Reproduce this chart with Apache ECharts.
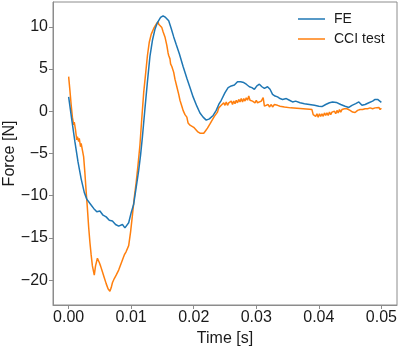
<!DOCTYPE html>
<html>
<head>
<meta charset="utf-8">
<script src="https://cdn.jsdelivr.net/npm/echarts@6/dist/echarts.min.js"></script>
<style>
  html, body { margin: 0; padding: 0; background: #ffffff; }
  #chart { width: 400px; height: 346px; }
</style>
</head>
<body>
<div id="chart"></div>
<script>
// FE simulation, force vs time
const feTime = [
  0.0000, 0.0005, 0.0010, 0.0015, 0.0020, 0.0025, 0.0029, 0.0035, 0.0040, 0.0045,
  0.0050, 0.0055, 0.0060, 0.0065, 0.0070, 0.0075, 0.0080, 0.0083, 0.0086, 0.0090,
  0.0093, 0.0096, 0.0100, 0.0104, 0.0108, 0.0112, 0.0115, 0.0118, 0.0122, 0.0126,
  0.0130, 0.0134, 0.0138, 0.0142, 0.0147, 0.0151, 0.0155, 0.0160, 0.0164, 0.0168,
  0.0172, 0.0177, 0.0183, 0.0189, 0.0194, 0.0199, 0.0205, 0.0210, 0.0215, 0.0220,
  0.0225, 0.0231, 0.0236, 0.0240, 0.0244, 0.0250, 0.0255, 0.0260, 0.0265, 0.0270,
  0.0275, 0.0280, 0.0284, 0.0289, 0.0293, 0.0297, 0.0301, 0.0305, 0.0309, 0.0313,
  0.0318, 0.0322, 0.0326, 0.0330, 0.0334, 0.0338, 0.0342, 0.0348, 0.0353, 0.0358,
  0.0363, 0.0370, 0.0377, 0.0385, 0.0393, 0.0400, 0.0405, 0.0411, 0.0417, 0.0422,
  0.0428, 0.0435, 0.0442, 0.0448, 0.0453, 0.0459, 0.0464, 0.0469, 0.0474, 0.0480,
  0.0486, 0.0490, 0.0494, 0.0497, 0.0500
];
const feForce = [
  1.7, -1.0, -3.6, -6.0, -8.0, -9.6, -10.4, -11.0, -11.5, -11.9,
  -11.8, -12.3, -12.5, -12.9, -13.0, -13.4, -13.6, -13.8, -13.4, -13.8,
  -13.85, -13.2, -12.0, -11.0, -9.0, -7.0, -5.2, -3.0, 0.3, 3.5,
  6.5, 8.4, 9.7, 10.5, 11.1, 11.3, 11.1, 10.7, 9.8, 8.8,
  7.9, 6.8, 5.3, 3.9, 2.8, 1.7, 0.6, -0.2, -0.7, -1.05,
  -0.9, -0.5, 0.1, 0.8, 1.3, 2.2, 2.8, 3.0, 3.1, 3.5,
  3.5, 3.4, 3.2, 2.9, 2.8, 2.6, 3.0, 3.2, 2.9, 2.7,
  2.9, 2.6, 2.0, 1.8, 1.7, 1.5, 1.4, 1.5, 1.3, 1.1,
  1.2, 1.0, 0.9, 0.8, 0.7, 0.6, 0.55, 0.8, 1.0, 1.1,
  1.05, 0.8, 0.6, 0.45, 0.7, 0.9, 1.1, 0.7, 0.8, 1.0,
  1.2, 1.4, 1.4, 1.3, 1.05
];

// CCI test measurement
const cciTime = [
  0.0000, 0.0002, 0.0004, 0.0006, 0.0008, 0.0009, 0.0011, 0.0013, 0.0014, 0.0016,
  0.0017, 0.0019, 0.0020, 0.0022, 0.0024, 0.0026, 0.0028, 0.0030, 0.0032, 0.0034,
  0.0036, 0.0038, 0.0041, 0.0043, 0.0046, 0.0049, 0.0051, 0.0054, 0.0057, 0.0060,
  0.0063, 0.0066, 0.0068, 0.0070, 0.0073, 0.0076, 0.0080, 0.0083, 0.0086, 0.0089,
  0.0092, 0.0096, 0.0099, 0.0102, 0.0105, 0.0108, 0.0111, 0.0114, 0.0117, 0.0120,
  0.0123, 0.0126, 0.0129, 0.0132, 0.0136, 0.0140, 0.0143, 0.0144, 0.0145, 0.0147,
  0.0149, 0.0151, 0.0154, 0.0157, 0.0159, 0.0160, 0.0162, 0.0163, 0.0165, 0.0168,
  0.0170, 0.0173, 0.0176, 0.0178, 0.0181, 0.0183, 0.0186, 0.0189, 0.0191, 0.0194,
  0.0197, 0.0200, 0.0203, 0.0206, 0.0210, 0.0213, 0.0216, 0.0219, 0.0222, 0.0226,
  0.0229, 0.0231, 0.0233, 0.0235, 0.0238, 0.0240, 0.0242, 0.0244, 0.0246, 0.0248,
  0.0250, 0.0252, 0.0254, 0.0256, 0.0258, 0.0260, 0.0262, 0.0264, 0.0266, 0.0268,
  0.0270, 0.0272, 0.0274, 0.0276, 0.0278, 0.0280, 0.0282, 0.0284, 0.0286, 0.0288,
  0.0290, 0.0292, 0.0294, 0.0296, 0.0298, 0.0300, 0.0302, 0.0304, 0.0308, 0.0311,
  0.0313, 0.0316, 0.0319, 0.0321, 0.0324, 0.0326, 0.0329, 0.0331, 0.0334, 0.0338,
  0.0345, 0.0355, 0.0365, 0.0375, 0.0385, 0.0389, 0.0391, 0.0393, 0.0395, 0.0397,
  0.0399, 0.0401, 0.0403, 0.0405, 0.0407, 0.0409, 0.0411, 0.0413, 0.0415, 0.0417,
  0.0419, 0.0421, 0.0423, 0.0425, 0.0427, 0.0429, 0.0431, 0.0433, 0.0435, 0.0437,
  0.0439, 0.0441, 0.0443, 0.0445, 0.0447, 0.0450, 0.0454, 0.0458, 0.0462, 0.0466,
  0.0470, 0.0474, 0.0478, 0.0482, 0.0486, 0.0490, 0.0493, 0.0496, 0.0498, 0.0500
];
const cciForce = [
  4.1, 2.5, 0.8, -0.7, -1.6, -1.3, -2.2, -3.4, -3.0, -3.6,
  -3.2, -4.2, -3.8, -4.6, -5.4, -7.3, -9.5, -11.5, -13.7, -15.5,
  -17.0, -18.3, -19.4, -18.3, -17.4, -17.9, -18.3, -19.0, -19.7, -20.4,
  -21.0, -21.3, -20.9, -20.3, -19.8, -19.4, -18.8, -18.2, -17.6, -17.0,
  -16.6, -15.9, -14.3, -12.3, -10.2, -8.4, -6.3, -4.0, -0.8, 2.2,
  4.4, 6.6, 8.2, 9.1, 9.8, 10.3, 10.6, 10.3, 10.5, 10.2,
  9.9, 9.4, 8.8, 7.8, 6.9, 6.6, 6.2, 5.6, 5.3, 4.6,
  3.8, 2.9, 2.0, 1.3, 0.6, 0.1, -0.4, -0.7, -1.4, -1.65,
  -1.8, -1.9, -2.1, -2.4, -2.6, -2.8, -2.6, -2.3, -2.0, -1.5,
  -1.1, -1.3, -0.6, -0.8, -0.1, 0.4, 0.2, 0.7, 0.5, 1.0,
  0.7, 1.1, 0.7, 1.0, 0.8, 1.2, 0.8, 1.2, 0.9, 1.3,
  1.0, 1.4, 1.1, 1.5, 1.1, 1.5, 1.2, 1.6, 1.3, 1.8,
  1.3, 1.5, 1.2, 1.4, 1.0, 1.3, 1.0, 1.2, 1.2, 1.6,
  0.6, 0.5, 0.8, 0.5, 0.8, 0.5, 0.8, 0.6, 0.7, 0.6,
  0.5, 0.4, 0.35, 0.3, 0.25, 0.2, -0.4, -0.2, -0.6, -0.3,
  -0.7, -0.3, -0.6, -0.3, -0.6, -0.2, -0.5, -0.2, -0.5, -0.1,
  -0.4, -0.1, -0.3, 0.0, -0.3, 0.1, -0.2, 0.2, -0.1, 0.2,
  0.0, 0.3, 0.1, 0.3, 0.2, 0.1, -0.1, -0.15, 0.1, 0.2,
  0.2, 0.3, 0.3, 0.4, 0.3, 0.4, 0.3, 0.45, 0.2, 0.35
];

const xTicks = [0.00, 0.01, 0.02, 0.03, 0.04, 0.05];
const yTicks = [-20, -15, -10, -5, 0, 5, 10];

const fontFamily = '"Liberation Sans", Arial, Helvetica, sans-serif';
const frameColor = '#8c8c8c';
const textColor = '#1a1a1a';

const chart = echarts.init(document.getElementById('chart'), null, { renderer: 'canvas' });

const zip = (xs, ys) => xs.map((x, i) => [x, ys[i]]);

chart.setOption({
  animation: false,
  backgroundColor: '#ffffff',
  textStyle: { fontFamily },
  grid: {
    left: 53,
    right: 3,
    top: 2,
    bottom: 41,
    outerBoundsMode: 'none',
    show: true,
    borderColor: frameColor,
    borderWidth: 1,
    backgroundColor: 'transparent',
  },
  legend: {
    orient: 'vertical',
    left: 298,
    top: 12,
    padding: 0,
    icon: 'rect',
    itemWidth: 27,
    itemHeight: 1.5,
    itemGap: 6,
    textStyle: { fontSize: 14, lineHeight: 14, color: textColor, fontFamily, padding: [0, 0, 0, 4] },
    data: ['FE', 'CCI test'],
  },
  xAxis: {
    type: 'value',
    min: -0.0025,
    max: 0.0525,
    name: 'Time [s]',
    nameLocation: 'middle',
    nameGap: 21,
    nameTextStyle: { fontSize: 16, color: textColor, fontFamily },
    axisLine: { show: true, onZero: false, lineStyle: { color: frameColor, width: 1 } },
    axisTick: { show: true, inside: false, length: 4, customValues: xTicks, lineStyle: { color: frameColor } },
    axisLabel: {
      customValues: xTicks,
      margin: 5,
      fontSize: 16,
      color: textColor,
      formatter: (v) => v.toFixed(2),
    },
    splitLine: { show: false },
  },
  yAxis: {
    type: 'value',
    min: -22.93,
    max: 12.93,
    name: 'Force [N]',
    nameLocation: 'middle',
    nameGap: 35,
    nameMoveOverlap: false,
    nameTextStyle: { fontSize: 16, color: textColor, fontFamily },
    axisLine: { show: true, onZero: false, lineStyle: { color: frameColor, width: 1 } },
    axisTick: { show: true, inside: false, length: 4, customValues: yTicks, lineStyle: { color: frameColor } },
    axisLabel: {
      customValues: yTicks,
      margin: 5,
      fontSize: 16,
      color: textColor,
      formatter: (v) => (v < 0 ? '\u2212' + Math.abs(v) : String(v)),
    },
    splitLine: { show: false },
  },
  series: [
    {
      name: 'FE',
      type: 'line',
      data: zip(feTime, feForce),
      symbol: 'none',
      lineStyle: { color: '#1f77b4', width: 1.5 },
      itemStyle: { color: '#1f77b4' },
      z: 3,
    },
    {
      name: 'CCI test',
      type: 'line',
      data: zip(cciTime, cciForce),
      symbol: 'none',
      lineStyle: { color: '#ff7f0e', width: 1.5 },
      itemStyle: { color: '#ff7f0e' },
      z: 2,
    },
  ],
});
</script>
</body>
</html>
